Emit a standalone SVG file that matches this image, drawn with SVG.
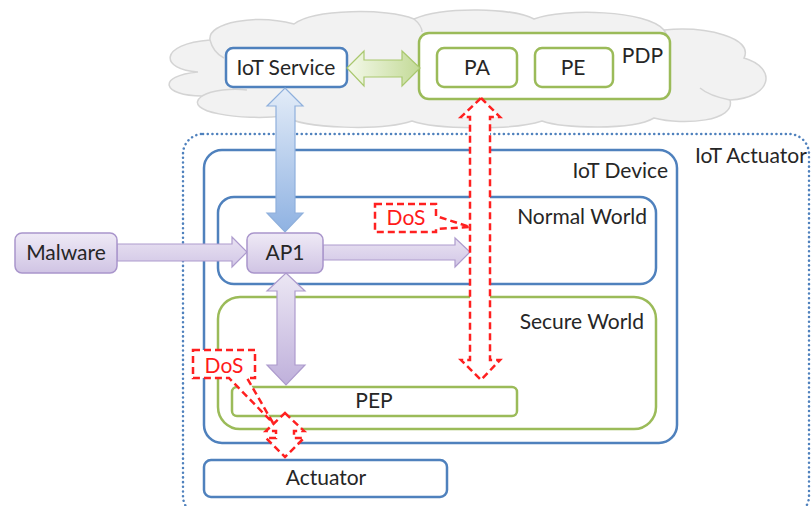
<svg xmlns="http://www.w3.org/2000/svg" width="811" height="506" viewBox="0 0 811 506">
  <style>
    .lbl { font-family: Lato, "Open Sans", "Liberation Sans", sans-serif; font-size: 21px; fill: #262626; }
    .mid { text-anchor: middle; }
    .end { text-anchor: end; }
    .dos { font-family: Lato, "Open Sans", "Liberation Sans", sans-serif; font-size: 21px; fill: #ff1a1a; text-anchor: middle; }
    .blue { fill: #ffffff; stroke: #4f81bd; stroke-width: 2.5; }
    .green { fill: #ffffff; stroke: #9bbb59; stroke-width: 2.5; }
    .purple { fill: url(#purpleBox); stroke: #a995cb; stroke-width: 1.5; }
    .attack { fill: #ffffff; stroke: #ff2020; stroke-width: 2.5; stroke-dasharray: 7 4; stroke-linejoin: miter; }
  </style>
  <defs>
    <linearGradient id="purpleBox" x1="0" y1="0" x2="0" y2="1">
      <stop offset="0" stop-color="#efeaf6"/>
      <stop offset="1" stop-color="#d0c4e4"/>
    </linearGradient>
    <linearGradient id="purpleArrowV" x1="0" y1="0" x2="0" y2="1">
      <stop offset="0" stop-color="#ece7f4"/>
      <stop offset="1" stop-color="#bfb0db"/>
    </linearGradient>
    <linearGradient id="purpleArrowH" x1="0" y1="0" x2="0" y2="1">
      <stop offset="0" stop-color="#e9e2f2"/>
      <stop offset="1" stop-color="#d2c7e6"/>
    </linearGradient>
    <linearGradient id="blueArrow" x1="0" y1="0" x2="0" y2="1">
      <stop offset="0" stop-color="#e3ecf8"/>
      <stop offset="1" stop-color="#8fb2e2"/>
    </linearGradient>
    <linearGradient id="greenArrow" x1="0" y1="0" x2="1" y2="0">
      <stop offset="0" stop-color="#f4f9ea"/>
      <stop offset="1" stop-color="#c3da97"/>
    </linearGradient>
  </defs>

  <rect width="811" height="506" fill="#ffffff"/>

  <!-- cloud hosting the services -->
  <g id="cloud">
    <path d="M198,72 C160,70 158,44 210,40 C207,22 257,14 294,24 C314,9 387,8 414,19 C444,6 514,8 534,19 C564,8 647,10 664,30 C707,26 754,38 744,58 C778,68 772,98 730,100 C736,121 684,126 654,118 C632,131 562,128 542,121 C512,131 434,129 412,121 C382,131 304,129 284,116 C242,121 180,112 202,96 C162,96 156,76 198,72 Z" fill="#f2f2f2" stroke="#d4d4d4" stroke-width="1.5"/>
    <path d="M202,96 C212,90 232,88 247,90 M210,40 C212,48 216,54 224,58 M414,19 C420,24 422,28 422,32 M664,30 C667,34 668,38 667,42 M730,100 C720,98 707,94 700,88" fill="none" stroke="#d4d4d4" stroke-width="1.5"/>
  </g>

  <!-- actuator boundary -->
  <g id="iot-actuator">
    <rect x="183" y="134" width="626" height="382" rx="20" fill="none" stroke="#4f81bd" stroke-width="2.5" stroke-dasharray="0.1 4.6" stroke-linecap="round"/>
    <text class="lbl" x="695" y="163">IoT Actuator</text>
  </g>

  <g id="iot-device">
    <rect class="blue" x="204" y="150" width="473" height="293" rx="18"/>
    <text class="lbl end" x="668" y="178">IoT Device</text>
  </g>

  <g id="normal-world">
    <rect class="blue" x="218" y="197" width="438" height="87" rx="16"/>
    <text class="lbl end" x="647" y="224">Normal World</text>
  </g>

  <g id="secure-world">
    <rect class="green" x="218" y="297" width="438" height="132" rx="22"/>
    <text class="lbl end" x="644" y="329">Secure World</text>
  </g>

  <g id="pep">
    <rect class="green" x="232" y="387" width="285" height="29" rx="5"/>
    <text class="lbl mid" x="374" y="408">PEP</text>
  </g>

  <g id="actuator">
    <rect class="blue" x="204" y="460" width="243" height="37" rx="7"/>
    <text class="lbl mid" x="326" y="485">Actuator</text>
  </g>

  <g id="iot-service">
    <rect class="blue" x="226" y="48" width="121" height="39" rx="7"/>
    <text class="lbl mid" x="286" y="75">IoT Service</text>
  </g>

  <g id="pdp">
    <rect class="green" x="419" y="33" width="251" height="66" rx="10"/>
    <text class="lbl end" x="663" y="63">PDP</text>
  </g>

  <g id="pa">
    <rect class="green" x="437" y="48" width="80" height="39" rx="7"/>
    <text class="lbl mid" x="477" y="75">PA</text>
  </g>

  <g id="pe">
    <rect class="green" x="535" y="48" width="78" height="39" rx="7"/>
    <text class="lbl mid" x="573" y="75">PE</text>
  </g>

  <g id="connectors">
    <!-- IoT Service <-> AP1 -->
    <path d="M285,88 L303,106 L295,106 L295,213 L303,213 L285,232 L267,213 L276,213 L276,106 L267,106 Z" fill="url(#blueArrow)" stroke="#8fb0dc" stroke-width="1.2"/>
    <!-- IoT Service <-> PDP -->
    <path d="M347,68 L364,51 L364,60 L402,60 L402,51 L420,68 L402,86 L402,77 L364,77 L364,86 Z" fill="url(#greenArrow)" stroke="#a9c86e" stroke-width="1.2"/>
    <!-- Malware -> AP1 -->
    <path d="M117,244 L232,244 L232,237 L247,252 L232,267 L232,261 L117,261 Z" fill="url(#purpleArrowH)" stroke="#ad9bcd" stroke-width="1.2"/>
    <!-- AP1 -> PDP path -->
    <path d="M323,245 L455,245 L455,238 L470,252 L455,267 L455,260 L323,260 Z" fill="url(#purpleArrowH)" stroke="#ad9bcd" stroke-width="1.2"/>
    <!-- AP1 <-> PEP -->
    <path d="M286,273 L305,291 L295,291 L295,365 L305,365 L286,385 L267,365 L277,365 L277,291 L267,291 Z" fill="url(#purpleArrowV)" stroke="#ad9bcd" stroke-width="1.2"/>
    <!-- PDP <-> PEP (attacked) -->
    <path class="attack" d="M481,98 L500,117 L490,117 L490,360 L500,360 L481,380 L461,360 L470,360 L470,117 L461,117 Z"/>
    <!-- PEP <-> Actuator (attacked) -->
    <path class="attack" d="M285,413 L304,431 L294,431 L294,438 L304,438 L285,457 L266,438 L276,438 L276,431 L266,431 Z"/>
  </g>

  <g id="dos-normal">
    <path class="attack" d="M375,204 H436 V216 L470,227 L436,229 V232 H375 Z"/>
    <text class="dos" x="406" y="225">DoS</text>
  </g>

  <g id="dos-secure">
    <path class="attack" d="M193,350 H255 V378 H247 L273,423 L229,378 H193 Z"/>
    <text class="dos" x="224" y="373">DoS</text>
  </g>

  <g id="malware">
    <rect class="purple" x="15" y="233" width="102" height="40" rx="7"/>
    <text class="lbl mid" x="66" y="260">Malware</text>
  </g>

  <g id="ap1">
    <rect class="purple" x="247" y="233" width="76" height="40" rx="7"/>
    <text class="lbl mid" x="285" y="260">AP1</text>
  </g>
</svg>
